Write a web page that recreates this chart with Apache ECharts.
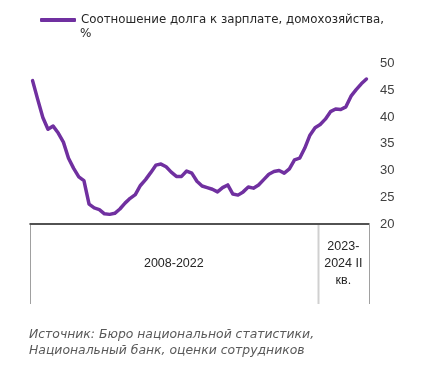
<!DOCTYPE html>
<html>
<head>
<meta charset="utf-8">
<script src="https://cdn.jsdelivr.net/npm/echarts@6/dist/echarts.min.js"></script>
<style>html,body{margin:0;padding:0;background:#fff}#c{width:428px;height:367px}</style>
</head>
<body>
<div id="c"></div>
<script>
// Quarterly categories, 2008 Q1 .. 2024 Q2
const roman = ['I', 'II', 'III', 'IV'];
const categories = [];
for (let y = 2008; y <= 2024; y++) {
  for (let q = 0; q < 4; q++) {
    if (y === 2024 && q > 1) break;
    categories.push(y + ' ' + roman[q]);
  }
}

const seriesName = 'Соотношение долга к зарплате, домохозяйства, %';
const debtToWage = [
  46.8, 43.3, 39.9, 37.7, 38.3, 37.0, 35.3, 32.3, 30.4, 28.8,
  28.1, 23.7, 23.0, 22.7, 21.9, 21.8, 22.0, 22.8, 23.9, 24.8,
  25.5, 27.2, 28.3, 29.6, 31.0, 31.2, 30.7, 29.7, 28.9, 28.9,
  29.9, 29.5, 28.0, 27.1, 26.8, 26.5, 26.0, 26.8, 27.3, 25.6,
  25.4, 26.0, 26.9, 26.7, 27.3, 28.3, 29.3, 29.8, 30.0, 29.5,
  30.3, 32.0, 32.3, 34.2, 36.6, 38.0, 38.6, 39.6, 41.0, 41.5,
  41.4, 41.9, 43.9, 45.1, 46.2, 47.1
];

const groupLabels = ['2008-2022', '2023-\n2024 II\nкв.'];
const groupSizes = [56, 10];

const yMin = 20, yMax = 50, yStep = 5;

const sourceText = 'Источник: Бюро национальной статистики,\nНациональный банк, оценки сотрудников';

const chart = echarts.init(document.getElementById('c'), null, { renderer: 'canvas' });

chart.setOption({
  animation: false,
  backgroundColor: '#fff',
  grid: { left: 30, right: 59, top: 63.5, bottom: 143, containLabel: false },
  legend: {
    left: 35, top: 9,
    icon: 'roundRect', itemWidth: 36, itemHeight: 4, itemGap: 5,
    data: [seriesName],
    formatter: () => 'Соотношение долга к зарплате, домохозяйства,',
    textStyle: { color: '#262626', fontSize: 11.8, fontFamily: 'DejaVu Sans' }
  },
  xAxis: {
    type: 'category',
    data: categories,
    boundaryGap: true,
    axisLine: { show: true, lineStyle: { color: '#1a1a1a', width: 1.5 } },
    axisTick: { show: false },
    axisLabel: { show: false },
    splitLine: { show: false }
  },
  yAxis: {
    type: 'value',
    position: 'right',
    min: yMin, max: yMax, interval: yStep,
    axisLine: { show: false },
    axisTick: { show: false },
    splitLine: { show: false },
    axisLabel: { margin: 11, color: '#404040', fontSize: 13, fontFamily: 'Liberation Sans' }
  },
  series: [{
    name: seriesName,
    type: 'line',
    data: debtToWage,
    showSymbol: false,
    symbol: 'none',
    lineStyle: { color: '#7030A0', width: 3.5, cap: 'round', join: 'round' },
    itemStyle: { color: '#7030A0' }
  }]
});

// Category group labels and separators, positioned through the category axis scale
const c0 = chart.convertToPixel({ xAxisIndex: 0 }, 0);
const c1 = chart.convertToPixel({ xAxisIndex: 0 }, 1);
const w = c1 - c0;
const bound = i => c0 - w / 2 + i * w;
const yBase = chart.convertToPixel({ yAxisIndex: 0 }, yMin);
const elements = [];
let start = 0;
const edges = [0];
groupSizes.forEach(n => { start += n; edges.push(start); });
edges.forEach((e, k) => {
  const inner = k > 0 && k < edges.length - 1;
  elements.push({
    type: 'line',
    shape: { x1: Math.round(bound(e)) + 0.5, y1: yBase + 1, x2: Math.round(bound(e)) + 0.5, y2: yBase + 80 },
    style: { stroke: inner ? '#d0d0d0' : '#a0a0a0', lineWidth: inner ? 2 : 1 }
  });
});
groupLabels.forEach((lbl, k) => {
  const cx = (bound(edges[k]) + bound(edges[k + 1])) / 2;
  elements.push({
    type: 'text',
    x: cx, y: yBase + 40,
    style: {
      text: lbl, align: 'center', verticalAlign: 'middle',
      fill: '#262626', fontSize: 12.5, fontFamily: 'Liberation Sans', lineHeight: 17
    }
  });
});
elements.push({
  type: 'text', left: 80, top: 27.5,
  style: { text: '%', fill: '#262626', fontSize: 12, fontFamily: 'DejaVu Sans' }
});
elements.push({
  type: 'text', left: 29, top: 327,
  style: {
    text: sourceText, fill: '#595959', fontSize: 12.4, fontStyle: 'italic',
    fontFamily: 'DejaVu Sans', lineHeight: 16
  }
});
chart.setOption({ graphic: { elements: elements } });
</script>
</body>
</html>
